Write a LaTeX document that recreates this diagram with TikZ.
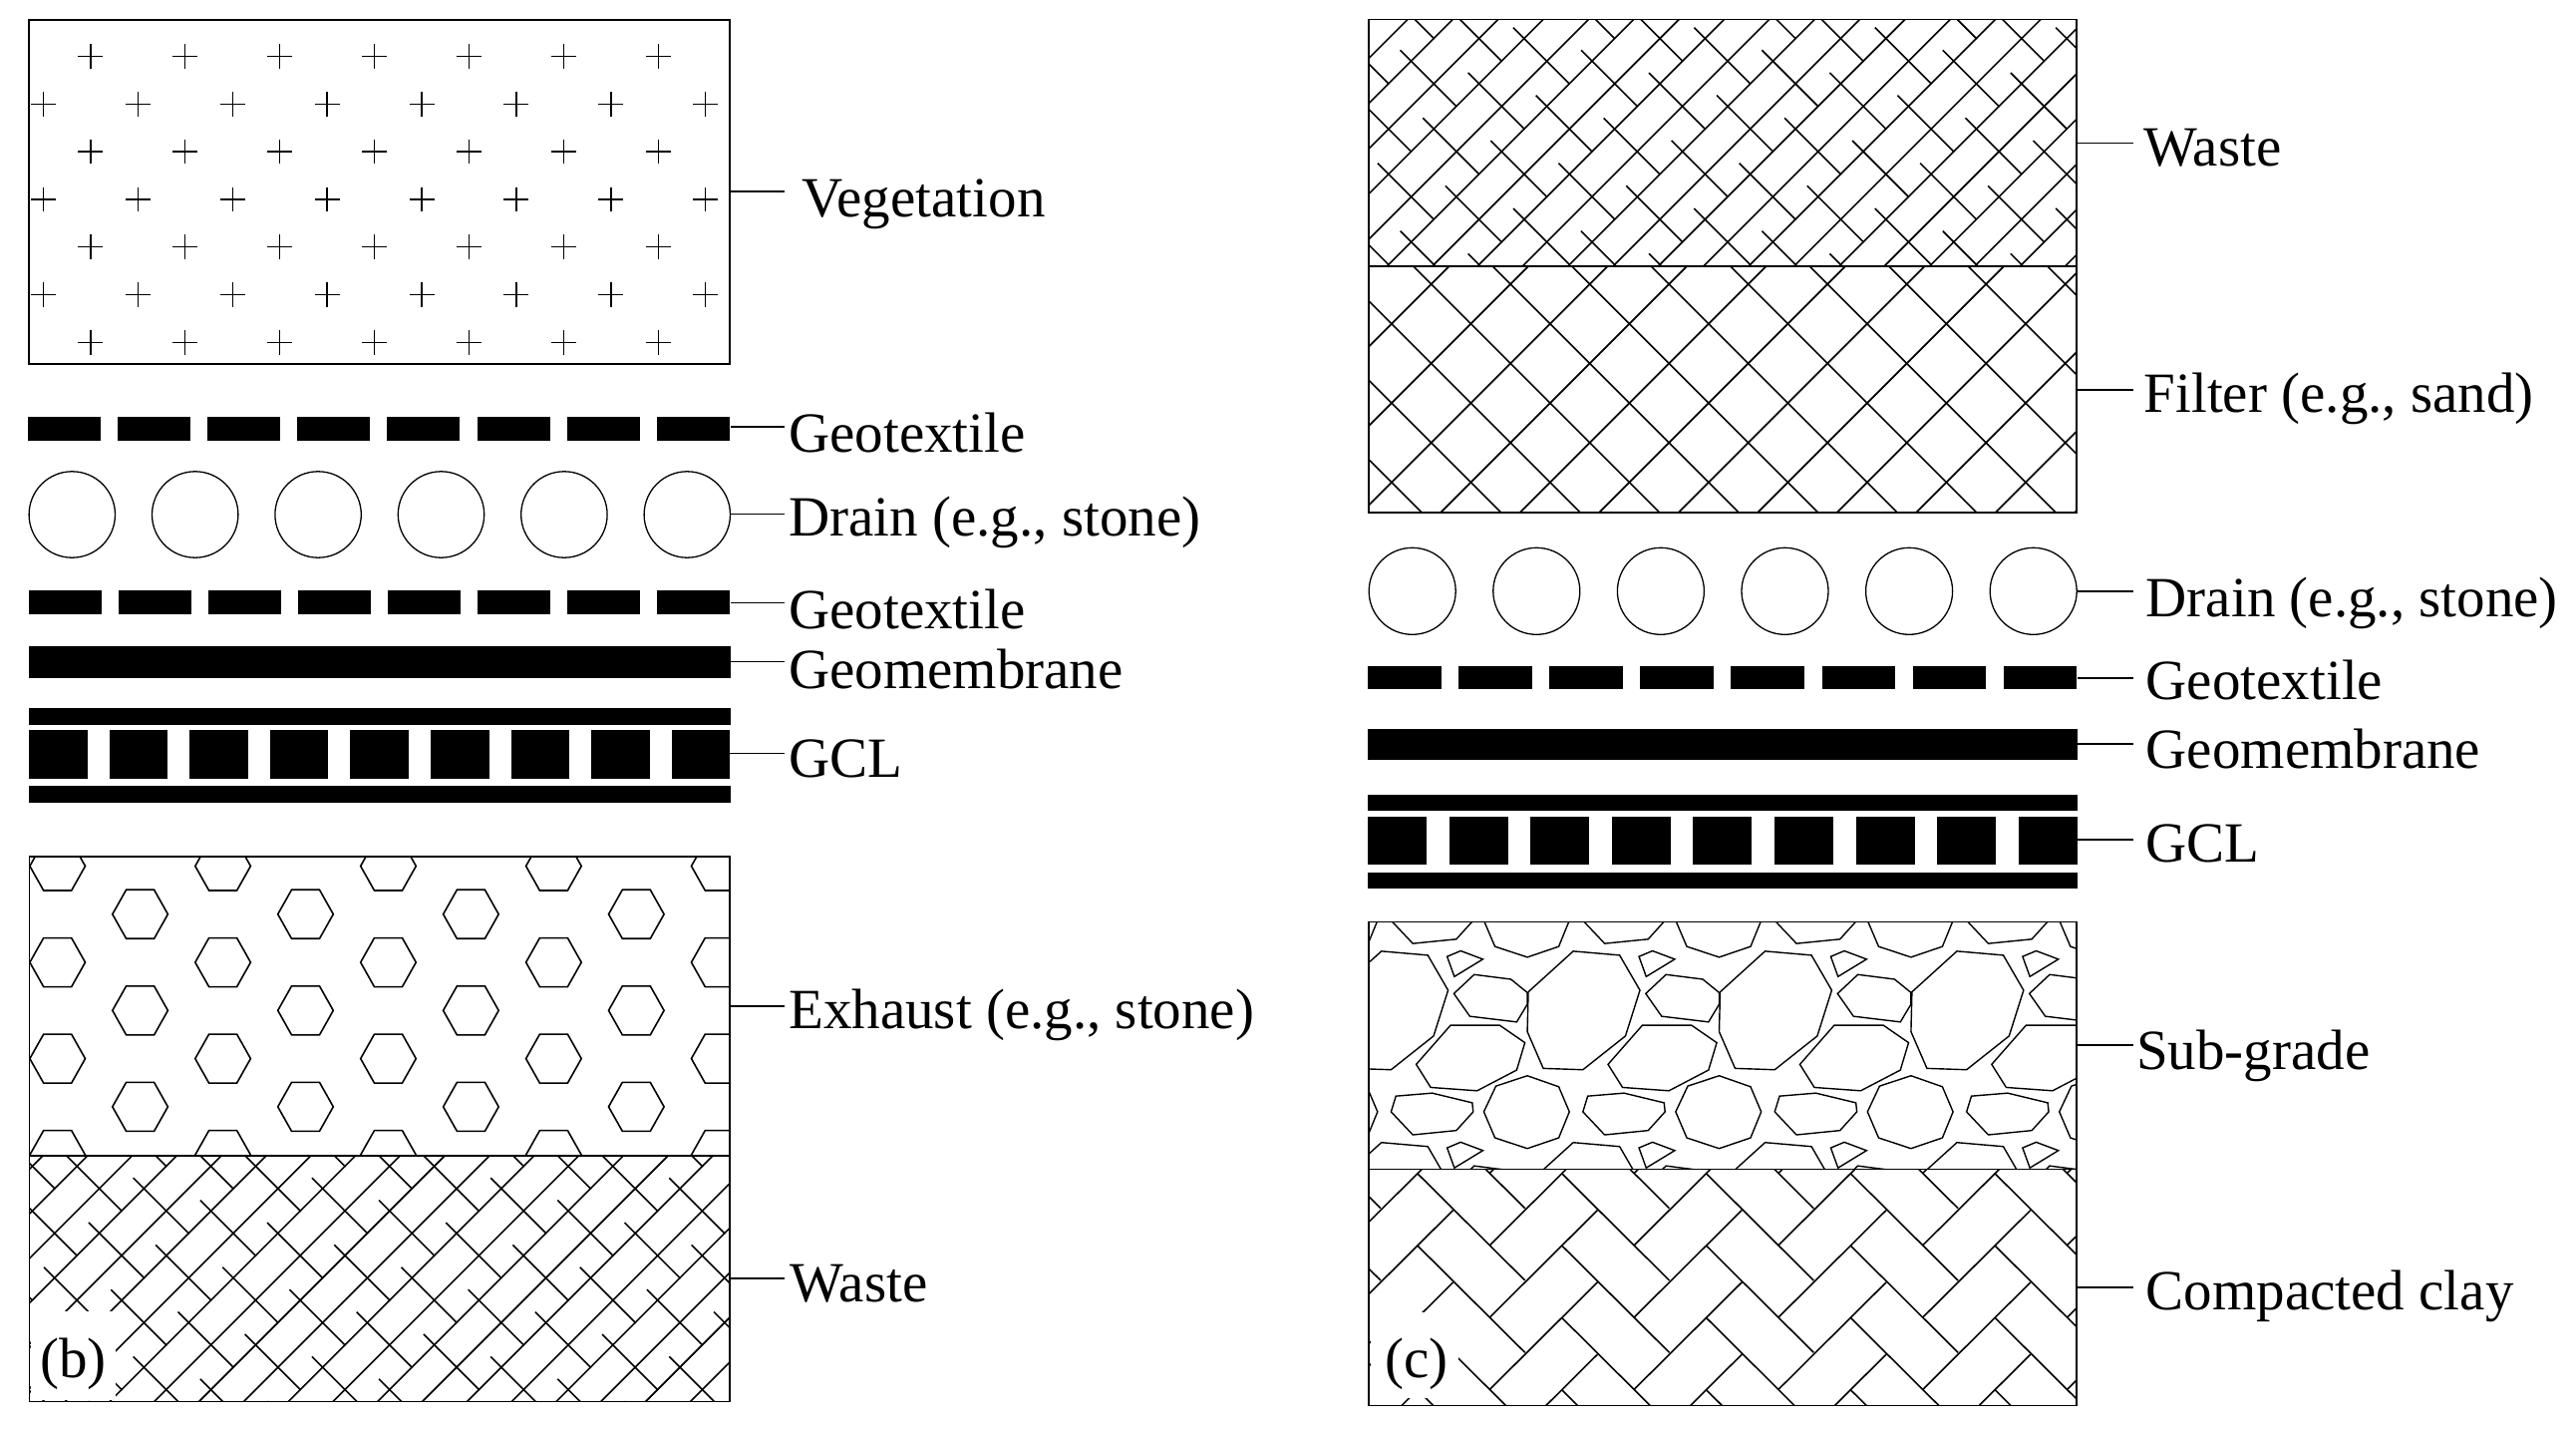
\documentclass[tikz,border=0pt]{standalone}
\usepackage{fontspec}
\setmainfont{Liberation Serif}

\tikzset{
    outline/.style = {line width=1.6pt},
    hatch/.style = {line width=1.6pt},
    band/.style = {fill=black},
    leader/.style = {line width=1.6pt},
    lbl/.style = {anchor=base west, inner sep=0pt, font=\fontsize{57}{60}\selectfont}
}

% long rising lines plus the short falling pieces: #1 first line, #2,#3 first piece, #4 spacing
\newcommand{\brickhatch}[4]{
    \foreach \k in {-3,...,22}
        \draw[hatch] ({#1+\k*#4},0) -- ({#1+\k*#4-1435},1435);
    \foreach \i in {-5,...,13}
        \foreach \j in {-7,...,6}
            \draw[hatch] ({#2+1.5*#4*\i+.5*#4*\j},{#3+.5*#4*\i+1.5*#4*\j}) -- ++({1.25*#4},{1.25*#4});
}

\begin{document}
\begin{tikzpicture}[x=1pt, y=-1pt]
    \useasboundingbox (0,0) rectangle (2584,1435);

    % left column, vegetation
    \begin{scope}
        \clip (29,19.7) rectangle (732,365);
        \foreach \r in {0,...,7} {
            \pgfmathsetmacro{\off}{mod(\r,2)*47.4}
            \foreach \c in {0,...,7}
                \draw[line width=1.4pt] ({43.4+\off+94.9*\c-12.5},{8.7+47.8*\r}) -- ++(25,0)
                    ({43.4+\off+94.9*\c},{8.7+47.8*\r-12.3}) -- ++(0,24.6);
        }
    \end{scope}
    \draw[outline] (29,19.7) rectangle (732,365);

    % left column, thin layers
    \foreach \i in {0,...,7} {
        \fill[band] ({28+90.1*\i},418) rectangle ++(73,24);
        \fill[band] ({29+90*\i},592) rectangle ++(73,24);
    }
    \foreach \i in {0,...,5}
        \draw[line width=1.3pt] ({72.3+123.4*\i},516) circle (43.2);
    \fill[band] (29,648) rectangle (733,680);
    \fill[band] (29,710) rectangle (733,727);
    \foreach \i in {0,...,8}
        \fill[band] ({29+80.6*\i},732) rectangle ++(58.5,48.7);
    \fill[band] (29,788) rectangle (733,805);

    % left column, exhaust
    \begin{scope}
        \clip (29.6,859) rectangle (732,1158.8);
        \foreach \r in {0,...,6} {
            \pgfmathsetmacro{\off}{mod(\r,2)*82.9}
            \foreach \c in {0,...,4}
                \draw[hatch, shift={({57.7+\off+165.9*\c},{868.5+48.27*\r})}]
                    (-27.8,0) -- (-14,-24.5) -- (14,-24.5) -- (27.8,0) -- (14,24.5) -- (-14,24.5) -- cycle;
        }
    \end{scope}

    % left column, waste
    \begin{scope}
        \clip (29.6,1158.8) rectangle (732,1405.5);
        \brickhatch{1291.5}{133.7}{1181.2}{44.8}
    \end{scope}
    \fill[white] (31,1315) rectangle (116,1404);
    \draw[outline] (29.6,859) rectangle (732,1405.5);
    \draw[outline] (29.6,1158.8) -- (732,1158.8);
    \node[lbl] (panelb) at (40,1381) {(b)};

    % right column, waste
    \begin{scope}
        \clip (1373,19.6) rectangle (2083,266.6);
        \brickhatch{1431.5}{1404.6}{50.3}{45.35}
    \end{scope}

    % right column, filter
    \begin{scope}
        \clip (1373,266.6) rectangle (2083,514.2);
        \foreach \k in {-2,...,13} {
            \draw[hatch] ({1720.6+\k*79.5},0) -- ({1720.6+\k*79.5-1435},1435);
            \draw[hatch] ({1071.2+\k*79.5},0) -- ({1071.2+\k*79.5+1435},1435);
        }
    \end{scope}
    \draw[outline] (1373,19.6) rectangle (2083,514.2);
    \draw[line width=2.2pt] (1373,266.6) -- (2083,266.6);

    % right column, thin layers
    \foreach \i in {0,...,5}
        \draw[line width=1.3pt] ({1416.7+124.6*\i},592.8) circle (43.5);
    \foreach \i in {0,...,7}
        \fill[band] ({1372+91.1*\i},668) rectangle ++(73.5,23);
    \fill[band] (1372,731) rectangle (2084,762);
    \fill[band] (1372,797) rectangle (2084,813);
    \foreach \i in {0,...,8}
        \fill[band] ({1372+81.6*\i},819) rectangle ++(59,48);
    \fill[band] (1372,875) rectangle (2084,891);

    % right column, sub-grade
    \begin{scope}
        \clip (1373,924.4) rectangle (2083,1172.5);
        \begin{scope}[shift={(1360,910)}, x=.4847pt, y=-.3348pt]
            \foreach \i in {-1,...,3}
                \foreach \j in {-1,0,1}
                    \draw[hatch, line width=1.4pt, shift={({\i*397},{\j*573})}]
                        (450,131) -- (546,143) -- (588,248) -- (558,385) -- (470,486) -- (388,482) -- (355,372) -- (357,253) -- cycle
                        (614,130) -- (660,155) -- (601,207) -- (586,147) -- cycle
                        (642,201) -- (718,215) -- (752,255) -- (752,290) -- (730,343) -- (633,326) -- (600,258) -- cycle
                        (593,353) -- (695,353) -- (747,405) -- (730,487) -- (648,549) -- (552,539) -- (522,470) -- cycle
                        (355,504) -- (420,537) -- (442,612) -- (420,690) -- (355,722) -- (288,690) -- (265,612) -- (290,535) -- cycle
                        (480,565) -- (555,556) -- (638,585) -- (640,612) -- (605,668) -- (515,681) -- (470,612) -- cycle;
        \end{scope}
    \end{scope}

    % right column, compacted clay
    \begin{scope}
        \clip (1373,1172.5) rectangle (2083,1409.5);
        \foreach \i in {-2,...,6}
            \foreach \j in {-2,...,3} {
                \draw[hatch] ({1421.6+144.8*\i},{1248.8+72.3*\j}) -- ++(108.1,107.5);
                \draw[hatch] ({1494.3+144.8*\i},{1321.1+72.3*\j}) -- ++(108.1,-107.5);
            }
    \end{scope}
    \fill[white] (1375,1316) rectangle (1463,1402);
    \draw[outline] (1373,924.4) rectangle (2083,1409.5);
    \draw[line width=1.2pt] (1373,1172.5) -- (2083,1172.5);
    \node[lbl] (panelc) at (1389,1381) {(c)};

    % labels and their leaders
    \foreach \nm/\xa/\xb/\ya/\xt/\yt/\txt in {
        veg/732/787/192/804.5/217/Vegetation,
        texA/733/787/428/791/453/Geotextile,
        drainA/732/787/515.3/791/537/{Drain (e.g., stone)},
        texB/733/787/604.6/791/630/Geotextile,
        memA/733/787/663.6/791/690.5/Geomembrane,
        gclA/732/787/755.4/791/779/GCL,
        exhaust/732/787/1008.7/791/1031/{Exhaust (e.g., stone)},
        wasteA/732/787/1281.7/792.5/1305/Waste,
        wasteB/2083/2140/143.4/2150.5/166.8/Waste,
        filter/2083/2140/390.8/2150.5/413/{Filter (e.g., sand)},
        drainB/2083/2140/592.8/2152.5/618.8/{Drain (e.g., stone)},
        texC/2084/2140/680/2152.5/701.5/Geotextile,
        memB/2084/2140/746.2/2152.5/770.4/Geomembrane,
        gclB/2084/2140/842/2152.5/864.8/GCL,
        subgrade/2083/2140/1047.7/2143/1072/Sub-grade,
        clay/2083/2140/1290.7/2152.5/1313.5/{Compacted clay}} {
        \node[lbl] (\nm) at (\xt,\yt) {\txt};
        \coordinate (\nm-a) at (\xa,\ya);
        \coordinate (\nm-b) at (\xb,\ya);
        \draw[leader] (\nm-a) -- (\nm-b);
    }
\end{tikzpicture}
\end{document}
